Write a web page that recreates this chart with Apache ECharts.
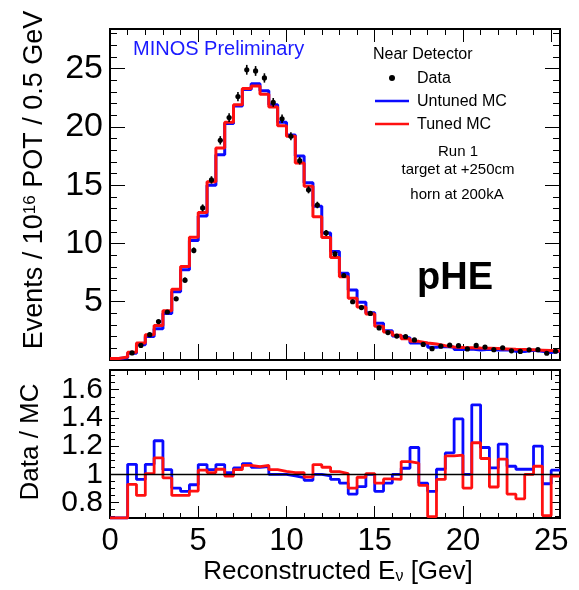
<!DOCTYPE html>
<html lang="en">
<head>
    <meta charset="UTF-8">
    <title>MINOS Near Detector pHE</title>
    <script src="https://cdn.jsdelivr.net/npm/echarts@6/dist/echarts.min.js"></script>
    <style>html, body {margin: 0; padding: 0; background: #fff;}</style>
</head>
<body>
<div id="main" style="width: 579px; height: 590px"></div>

<script>
    // 51 bins of 0.5 GeV, 0 -> 25.5 GeV
    const binWidth = 0.5;

    const tunedMC = [0.12, 0.25, 0.66, 1.46, 2.17, 2.97, 4.23, 6.08, 8.02, 10.54,
        12.65, 15.3, 18.2, 20.4, 21.9, 23.3, 23.5, 22.8, 21.7, 20.1,
        19.2, 16.9, 14.9, 12.3, 10.5, 8.8, 7.15, 5.3, 4.55, 3.95,
        2.9, 2.4, 2.12, 1.83, 1.6, 1.46, 1.37, 1.23, 1.12, 1.08,
        1.05, 1.02, 1.0, 0.98, 0.95, 0.92, 0.9, 0.87, 0.84, 0.81, 0.77];

    const untunedMC = [0.12, 0.2, 0.57, 1.3, 2.02, 2.69, 4.0, 5.85, 7.75, 10.25,
        12.36, 15.0, 17.6, 20.3, 21.8, 23.2, 23.7, 23.1, 21.9, 20.4,
        19.3, 17.5, 15.2, 13.2, 10.9, 9.3, 7.45, 6.0, 4.95, 4.05,
        3.15, 2.5, 2.05, 1.9, 1.45, 1.43, 1.1, 1.15, 1.1, 0.9,
        0.95, 0.85, 0.93, 0.86, 0.87, 0.76, 0.73, 0.84, 0.74, 0.64, 0.75];

    const dataValues = [null, null, 0.61, 1.25, 2.17, 3.3, 4.12, 5.25, 6.85, 9.4,
        13.05, 15.45, 18.85, 20.8, 22.6, 24.9, 24.8, 24.2, 22.1, 20.7,
        19.2, 17.1, 14.6, 13.3, 10.9, 9.1, 7.25, 5.0, 4.5, 4.0,
        2.75, 2.35, 2.05, 2.0, 1.72, 1.34, 0.97, 1.19, 1.27, 1.23,
        0.95, 1.25, 1.11, 0.89, 1.05, 0.79, 0.74, 0.87, 0.89, 0.58, 0.75];

    const dataErrors = [0, 0, 0.05, 0.08, 0.1, 0.12, 0.15, 0.18, 0.22, 0.25,
        0.3, 0.32, 0.36, 0.38, 0.4, 0.42, 0.42, 0.4, 0.38, 0.36,
        0.35, 0.33, 0.3, 0.28, 0.25, 0.22, 0.2, 0.18, 0.15, 0.14,
        0.12, 0.11, 0.1, 0.1, 0.09, 0.09, 0.08, 0.08, 0.08, 0.08,
        0.07, 0.07, 0.07, 0.07, 0.07, 0.06, 0.06, 0.06, 0.06, 0.06, 0.06];

    // Data / MC ratios (0.69 = drawn on the bottom edge)
    const ratioUntuned = [0.69, 0.69, 1.071, 0.964, 1.071, 1.238, 1.033, 0.902, 0.879, 0.926,
        1.069, 1.033, 1.069, 1.012, 1.045, 1.076, 1.05, 1.055, 1.0, 1.0,
        0.988, 0.976, 0.957, 1.0, 0.988, 0.964, 0.938, 0.86, 0.912, 1.0,
        0.879, 0.938, 1.0, 1.043, 1.19, 0.938, 0.879, 1.036, 1.152, 1.393,
        1.0, 1.493, 1.19, 1.045, 1.214, 1.057, 1.036, 1.036, 1.2, 0.933, 1.029];

    const ratioTuned = [0.69, 0.69, 0.929, 0.85, 1.005, 1.117, 0.974, 0.85, 0.85, 0.881,
        1.029, 1.012, 1.036, 0.988, 1.033, 1.064, 1.055, 1.064, 1.033, 1.021,
        1.012, 1.012, 0.981, 1.069, 1.05, 1.019, 1.005, 0.902, 0.979, 1.005,
        0.938, 0.967, 0.964, 1.09, 1.079, 0.921, 0.70, 0.964, 1.131, 1.136,
        0.902, 1.224, 1.112, 0.91, 1.107, 0.86, 0.826, 1.0, 1.057, 0.707, 0.988];

    const xMax = 25.5;
    const topYMax = 28.4;
    const ratioMin = 0.69, ratioMax = 1.74;

    const FONT = '"Liberation Sans", Arial, sans-serif';
    const BLUE = '#0a0aff';
    const RED = '#ff1010';

    function steps(vals) {
        const pts = vals.map((v, i) => [i * binWidth, v]);
        pts.push([vals.length * binWidth, vals[vals.length - 1]]);
        return pts;
    }

    const dataPoints = [];
    dataValues.forEach((v, i) => {
        if (v !== null) dataPoints.push([i * binWidth + binWidth / 2, v, dataErrors[i]]);
    });

    // one axis = one set of inside ticks; majors and minors are separate axes
    function tickAxis(grid, pos, min, max, interval, len, extra) {
        return Object.assign({
            type: 'value', gridIndex: grid, position: pos, min: min, max: max,
            interval: interval,
            axisLine: {show: false, onZero: false},
            axisTick: {show: true, inside: true, length: len, lineStyle: {color: '#000', width: 1}},
            axisLabel: {show: false},
            splitLine: {show: false}
        }, extra || {});
    }

    const multipleOf5 = v => (v > 0 && Math.abs(v / 5 - Math.round(v / 5)) < 1e-6) ? String(v) : '';
    const xLabel = v => (Math.abs(v / 5 - Math.round(v / 5)) < 1e-6) ? String(Math.round(v)) : '';
    const ratioLabel = v => {
        const r = Math.round(v * 5) / 5;
        return Math.abs(v - r) < 1e-6 ? String(r) : '';
    };

    const xAxes = [
        tickAxis(0, 'bottom', 0, xMax, 5, 16),
        tickAxis(0, 'bottom', 0, xMax, 1, 8),
        tickAxis(0, 'top', 0, xMax, 5, 13),
        tickAxis(0, 'top', 0, xMax, 1, 6),
        tickAxis(1, 'bottom', 0, xMax, 5, 12, {
            axisLabel: {show: true, formatter: xLabel, fontSize: 31, fontFamily: FONT, color: '#000', margin: 8}
        }),
        tickAxis(1, 'bottom', 0, xMax, 1, 5),
        tickAxis(1, 'top', 0, xMax, 5, 10),
        tickAxis(1, 'top', 0, xMax, 1, 5)
    ];

    const yAxes = [
        tickAxis(0, 'left', 0, topYMax, 5, 15, {
            axisLabel: {show: true, formatter: multipleOf5, fontSize: 34, fontFamily: FONT, color: '#000', margin: 7}
        }),
        tickAxis(0, 'left', 0, topYMax, 1, 7),
        tickAxis(0, 'right', 0, topYMax, 5, 15),
        tickAxis(0, 'right', 0, topYMax, 1, 7),
        tickAxis(1, 'left', ratioMin, ratioMax, undefined, 9, {
            splitNumber: 5,
            axisLabel: {show: true, formatter: ratioLabel, fontSize: 30, fontFamily: FONT, color: '#000', margin: 7}
        }),
        tickAxis(1, 'left', ratioMin, ratioMax, undefined, 5, {splitNumber: 21}),
        tickAxis(1, 'right', ratioMin, ratioMax, undefined, 9, {splitNumber: 5}),
        tickAxis(1, 'right', ratioMin, ratioMax, undefined, 5, {splitNumber: 21})
    ];

    function stepLine(name, vals, color, xi, yi, width) {
        return {
            name: name, type: 'line', step: 'end', xAxisIndex: xi, yAxisIndex: yi,
            data: steps(vals), symbol: 'none', silent: true,
            lineStyle: {color: color, width: width}
        };
    }

    const chart = echarts.init(document.getElementById('main'));

    const option = {
        animation: false,
        backgroundColor: '#fff',
        grid: [
            {left: 110, right: 19, top: 29, height: 331, show: true, borderColor: '#000', borderWidth: 2},
            {left: 110, right: 19, top: 370, height: 148, show: true, borderColor: '#000', borderWidth: 2}
        ],
        xAxis: xAxes,
        yAxis: yAxes,
        series: [
            stepLine('Untuned MC', untunedMC, BLUE, 0, 0, 3),
            stepLine('Tuned MC', tunedMC, RED, 0, 0, 3),
            {
                name: 'Data', type: 'custom', xAxisIndex: 0, yAxisIndex: 0, z: 5,
                data: dataPoints,
                renderItem: function (params, api) {
                    const x = api.value(0), y = api.value(1), e = api.value(2);
                    const c = api.coord([x, y]);
                    const l = api.coord([x - binWidth * 0.2, y]);
                    const r = api.coord([x + binWidth * 0.2, y]);
                    const lo = api.coord([x, y - e]);
                    const hi = api.coord([x, y + e]);
                    const st = {stroke: '#000', lineWidth: 1.6};
                    return {
                        type: 'group', children: [
                            {type: 'line', shape: {x1: l[0], y1: c[1], x2: r[0], y2: c[1]}, style: st},
                            {type: 'line', shape: {x1: c[0], y1: hi[1], x2: c[0], y2: lo[1]}, style: st},
                            {type: 'circle', shape: {cx: c[0], cy: c[1], r: 2.6}, style: {fill: '#000'}}
                        ]
                    };
                }
            },
            Object.assign(stepLine('Untuned ratio', ratioUntuned, BLUE, 4, 4, 2.8), {
                markLine: {
                    silent: true, symbol: 'none', label: {show: false},
                    lineStyle: {color: '#000', width: 1.3, type: 'solid'},
                    data: [{yAxis: 1}]
                }
            }),
            stepLine('Tuned ratio', ratioTuned, RED, 4, 4, 2.8)
        ],
        graphic: [
            {
                type: 'text', x: 35, y: 180, rotation: Math.PI / 2,
                style: {
                    text: 'Events / 10{sup|16} POT / 0.5 GeV', font: '27px ' + FONT, fill: '#000',
                    textAlign: 'center', textVerticalAlign: 'middle',
                    rich: {sup: {font: '17px ' + FONT, verticalAlign: 'top', fill: '#000'}}
                }
            },
            {
                type: 'text', x: 31, y: 442, rotation: Math.PI / 2,
                style: {
                    text: 'Data / MC', font: '26px ' + FONT, fill: '#000',
                    textAlign: 'center', textVerticalAlign: 'middle'
                }
            },
            {
                type: 'text', x: 338, y: 572,
                style: {
                    text: 'Reconstructed E{sub|ν} [Gev]', font: '26px ' + FONT, fill: '#000',
                    textAlign: 'center', textVerticalAlign: 'middle',
                    rich: {sub: {font: '16px ' + FONT, verticalAlign: 'bottom', fill: '#000'}}
                }
            },
            {
                type: 'text', x: 133, y: 49,
                style: {text: 'MINOS Preliminary', font: '20px ' + FONT, fill: '#1a1aff',
                    textAlign: 'left', textVerticalAlign: 'middle'}
            },
            {
                type: 'text', x: 373, y: 55,
                style: {text: 'Near Detector', font: '16px ' + FONT, fill: '#000',
                    textAlign: 'left', textVerticalAlign: 'middle'}
            },
            {type: 'circle', shape: {cx: 392, cy: 78, r: 3}, style: {fill: '#000'}},
            {
                type: 'text', x: 417, y: 79,
                style: {text: 'Data', font: '16px ' + FONT, fill: '#000',
                    textAlign: 'left', textVerticalAlign: 'middle'}
            },
            {type: 'line', shape: {x1: 375, y1: 101, x2: 409, y2: 101}, style: {stroke: BLUE, lineWidth: 2.5}},
            {
                type: 'text', x: 417, y: 102,
                style: {text: 'Untuned MC', font: '16px ' + FONT, fill: '#000',
                    textAlign: 'left', textVerticalAlign: 'middle'}
            },
            {type: 'line', shape: {x1: 375, y1: 124, x2: 409, y2: 124}, style: {stroke: RED, lineWidth: 2.5}},
            {
                type: 'text', x: 417, y: 125,
                style: {text: 'Tuned MC', font: '16px ' + FONT, fill: '#000',
                    textAlign: 'left', textVerticalAlign: 'middle'}
            },
            {
                type: 'text', x: 458, y: 152,
                style: {text: 'Run 1', font: '15px ' + FONT, fill: '#000',
                    textAlign: 'center', textVerticalAlign: 'middle'}
            },
            {
                type: 'text', x: 458, y: 170,
                style: {text: 'target at +250cm', font: '15px ' + FONT, fill: '#000',
                    textAlign: 'center', textVerticalAlign: 'middle'}
            },
            {
                type: 'text', x: 457, y: 195,
                style: {text: 'horn at 200kA', font: '15px ' + FONT, fill: '#000',
                    textAlign: 'center', textVerticalAlign: 'middle'}
            },
            {
                type: 'text', x: 455, y: 279,
                style: {text: 'pHE', font: 'bold 38px ' + FONT, fill: '#000',
                    textAlign: 'center', textVerticalAlign: 'middle'}
            }
        ]
    };
    chart.setOption(option);
</script>
</body>
</html>
